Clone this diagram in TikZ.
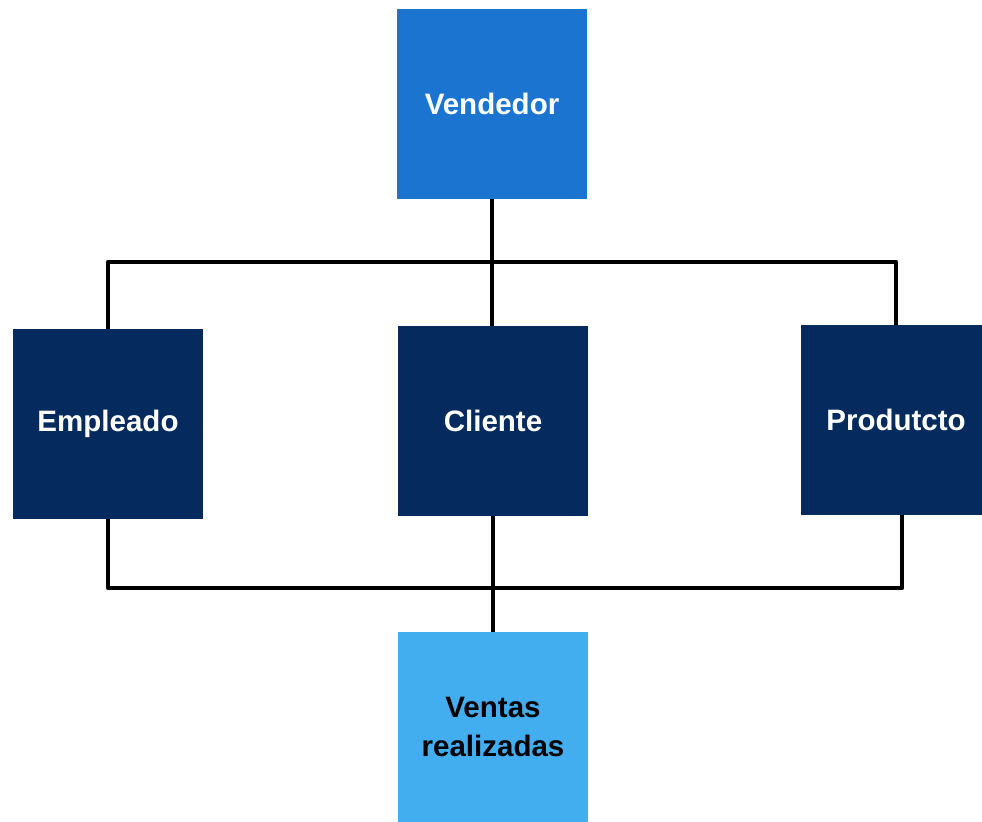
\documentclass[tikz,border=0pt]{standalone}
\usepackage{fontspec}
\setmainfont{Liberation Sans}
\usepackage{tikz}
\definecolor{vendblue}{HTML}{1B74CF}
\definecolor{navy}{HTML}{052B5E}
\definecolor{skyblue}{HTML}{43AEEF}

\begin{document}
\begin{tikzpicture}[x=0.02cm, y=-0.02cm,
    box/.style={rectangle, minimum width=3.8cm, minimum height=3.8cm, inner sep=0pt, align=center, font=\fontsize{16.8}{22}\selectfont\bfseries},
    bus/.style={line width=2.7pt, line join=round}]
    \clip (0,0) rectangle (982,821);
    \fill[white] (0,0) rectangle (982,821);

    % Vendedor
    \node[box, fill=vendblue, text=white] (VEND) at (492,104) {Vendedor};

    % middle row
    \node[box, fill=navy, text=white] (EMP) at (108,424) {Empleado};
    \node[box, fill=navy, text=white] (CLI) at (493,421) {Cliente};
    \node[box, fill=navy, text=white] (PROD) at (896,420) {Produtcto};

    % Ventas realizadas
    \node[box, fill=skyblue, text=black] (VENTAS) at (493,727) {Ventas\\realizadas};

    % bus coordinates
    \coordinate (TOPBUS) at (492,262);
    \coordinate (BOTBUS) at (492,588);

    % Connections
    \draw[bus] (VEND.south) -- (VEND.south |- CLI.north);
    \draw[bus] (EMP.north) |- (TOPBUS) -| (PROD.north);
    \draw[bus] (EMP.south) |- (BOTBUS) -| ([xshift=0.12cm]PROD.south);
    \draw[bus] (CLI.south) -- (VENTAS.north);
\end{tikzpicture}
\end{document}
